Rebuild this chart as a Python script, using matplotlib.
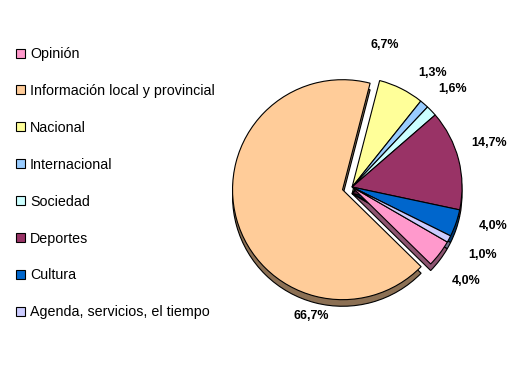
import matplotlib.pyplot as plt
from matplotlib.patches import Patch
from matplotlib.colors import to_rgb

# categorías y valores (%)
categorias = ['Opinión', 'Información local y provincial', 'Nacional', 'Internacional',
              'Sociedad', 'Deportes', 'Cultura', 'Agenda, servicios, el tiempo']
valores = [4.0, 66.7, 6.7, 1.3, 1.6, 14.7, 4.0, 1.0]
etiquetas = ['4,0%', '66,7%', '6,7%', '1,3%', '1,6%', '14,7%', '4,0%', '1,0%']
colores = ['#FF99CC', '#FFCC99', '#FFFF99', '#99CCFF', '#CCFFFF', '#993366', '#0066CC', '#CCCCFF']

# posición de las etiquetas (en radios del pastel)
pos_etiquetas = [(1.04, -0.85), (-0.37, -1.17), (0.30, 1.29), (0.73, 1.04),
                 (0.91, 0.89), (1.25, 0.40), (1.28, -0.35), (1.19, -0.62)]

plt.rcParams['font.family'] = ['Liberation Sans', 'DejaVu Sans']

fig = plt.figure(figsize=(5.3, 3.65), dpi=100)
ax = fig.add_axes([0.353, 0.0356, 0.6226, 0.904])

explode = [0, 0.09, 0, 0, 0, 0, 0, 0]
oscuros = [tuple(c * 0.55 for c in to_rgb(col)) for col in colores]

# lado "3D" (sombra)
ax.pie(valores, colors=oscuros, explode=explode, startangle=-30, counterclock=False,
       center=(0, -0.06), wedgeprops=dict(edgecolor='black', linewidth=0.8))
# cara superior
ax.pie(valores, colors=colores, explode=explode, startangle=-30, counterclock=False,
       wedgeprops=dict(edgecolor='black', linewidth=0.8))

for txt, (x, y) in zip(etiquetas, pos_etiquetas):
    ax.text(x, y, txt, ha='center', va='center', fontsize=9, fontweight='bold')

ax.set_xlim(-1.5, 1.5)
ax.set_ylim(-1.5, 1.5)
ax.set_aspect('equal')
ax.axis('off')

handles = [Patch(facecolor=c, edgecolor='black', linewidth=0.8) for c in colores]
fig.legend(handles, categorias, loc='upper left', bbox_to_anchor=(0.031, 0.871),
           frameon=False, fontsize=10.3, handlelength=0.6, handleheight=0.6,
           handletextpad=0.35, labelspacing=1.6, borderpad=0, borderaxespad=0)

plt.savefig('out.png', dpi=100)
